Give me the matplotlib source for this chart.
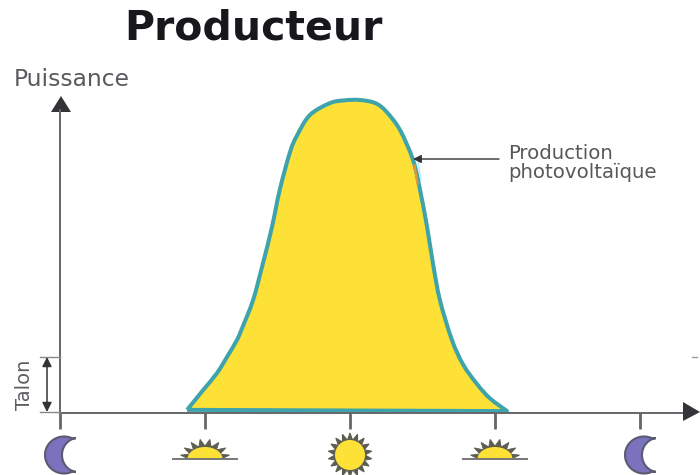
import numpy as np
import matplotlib
matplotlib.use("Agg")
import matplotlib.pyplot as plt
from matplotlib.patches import Polygon, Circle, PathPatch
from matplotlib.path import Path

hours = [5.26, 5.92, 6.50, 6.91, 7.32, 7.53, 7.99, 8.40, 8.77, 9.10, 9.52, 9.81, 10.34,
         11.17, 11.79, 12.41, 13.05, 13.50, 14.07, 14.61, 14.90, 15.19, 15.43, 15.72, 16.22, 16.68,
         17.25, 17.79, 18.50]
power = [1.0, 7.3, 12.8, 17.9, 23.3, 27.0, 36.1, 47.9, 59.4, 71.5, 83.4, 88.7, 95.2,
         99.0, 99.9, 100.0, 99.0, 96.3, 90.4, 80.8, 71.2, 59.4, 47.9, 36.1, 23.3, 15.5,
         9.3, 4.7, 0.6]
tick_hours = [0, 6, 12, 18, 24]
tick_icons = ["moon", "rise", "sun", "rise", "moon"]
talon_level = 17.9
TITLE = "Producteur"
YLABEL = "Puissance"
TALON = "Talon"
LABEL = "Production\nphotovoltaïque"

W, H = 700, 475
fig = plt.figure(figsize=(W / 100, H / 100), dpi=100, facecolor="white")
L, R, T, B = 60, 640, 100, 413
ax = fig.add_axes([L / W, 1 - B / H, (R - L) / W, (B - T) / H])
ax.set_xlim(0, 24)
ax.set_ylim(0, 100)
ax.patch.set_alpha(0)
for s in ax.spines.values():
    s.set_visible(False)
ax.set_xticks([])
ax.set_yticks([])


def smooth_closed(xs, ys):
    """Bezier segments through the read-off points, closed by a straight base."""
    p = np.c_[xs, ys]
    verts, codes = [p[0]], [Path.MOVETO]
    for i in range(len(p) - 1):
        p0 = p[max(i - 1, 0)]
        p1, p2 = p[i], p[i + 1]
        p3 = p[min(i + 2, len(p) - 1)]
        verts += [p1 + (p2 - p0) / 6, p2 - (p3 - p1) / 6, p2]
        codes += [Path.CURVE4] * 3
    verts.append(p[0])
    codes.append(Path.LINETO)
    return Path(verts, codes)


curve = smooth_closed(hours, power)
ax.add_patch(PathPatch(curve, facecolor="#fde136", edgecolor="#3fa3ac", lw=2.9, zorder=2,
                       joinstyle="round", clip_on=False))

# overlay in pixel space for the schematic decoration
ov = fig.add_axes([0, 0, 1, 1], zorder=5)
ov.set_xlim(0, W)
ov.set_ylim(H, 0)
ov.axis("off")
ov.patch.set_alpha(0)
G = "#66666a"
D = "#333338"
YEL = "#fde136"
RAY = "#5d5d50"

ov.plot([60, 688], [413, 413], color=G, lw=1.4, zorder=1)
ov.add_patch(Polygon([[683, 402], [700, 412], [683, 421]], fc=D, ec="none"))
ov.plot([60, 60], [413, 110], color=G, lw=1.4)
ov.add_patch(Polygon([[51, 112], [61, 96], [71, 112]], fc=D, ec="none"))

tick_px = [ax.transData.transform((h, 0))[0] for h in tick_hours]
for x in tick_px:
    ov.plot([x, x], [413, 429], color=G, lw=2.0, solid_capstyle="butt")

# talon
yt = 413 - talon_level * 3.13
ov.plot([40, 60], [yt, yt], color="#88888c", lw=1)
ov.plot([40, 60], [412, 412], color="#88888c", lw=1)
ov.annotate("", xy=(47, yt), xytext=(47, 412),
            arrowprops=dict(arrowstyle="<|-|>", color=D, lw=1.1, mutation_scale=14, shrinkA=0, shrinkB=0))
ov.text(25, 385, TALON, rotation=90, ha="center", va="center", fontsize=14,
        color="#5e5e62", family="DejaVu Sans")
ov.text(14, 80, YLABEL, ha="left", va="center", fontsize=16.8, color="#5a5a5e", family="DejaVu Sans")
ov.text(253, 29, TITLE, ha="center", va="center", fontsize=29.5, fontweight="bold",
        color="#17171c", family="DejaVu Sans")
ov.text(508, 163, LABEL, ha="left", va="center", fontsize=14.2, color="#58585c",
        family="DejaVu Sans", linespacing=0.95)
ov.annotate("", xy=(413, 159), xytext=(499, 159),
            arrowprops=dict(arrowstyle="-|>", color=D, lw=1.0, mutation_scale=12, shrinkA=0, shrinkB=0))

# small rendering artefacts on the curve near the arrow
ov.plot([414.5, 417.5], [165, 184], color="#e8953a", lw=1.6, solid_capstyle="round")
ov.plot([418, 421], [162, 180], color="#a9ecf5", lw=1.0)


def moon(cx):
    a = np.radians(np.linspace(65, 295, 60))
    ox, oy = cx + 19 * np.cos(a), 455 - 18.5 * np.sin(a)
    b = np.radians(np.linspace(262, 98, 40))
    ix, iy = cx + 14 + 16 * np.cos(b), 455 - 17 * np.sin(b)
    ov.add_patch(Polygon(np.r_[np.c_[ox, oy], np.c_[ix, iy]], fc="#7a72bd", ec="#5a5a72", lw=1.5))


def star(cx, cy, r0, r1, n, a0=0, a1=360, sx=1.0):
    ang = np.radians(np.linspace(a0, a1, 2 * n + 1))
    rad = np.where(np.arange(2 * n + 1) % 2 == 0, r0, r1)
    return np.c_[cx + sx * rad * np.cos(ang), cy - rad * np.sin(ang)]


for x, m in zip(tick_px, tick_icons):
    if m == "moon":
        moon(x + 4)
    elif m == "sun":
        ov.add_patch(Polygon(star(x, 455, 15, 22, 18), fc=RAY, ec=RAY, lw=0.8))
        ov.add_patch(Circle((x, 455), 15, fc=YEL, ec="none"))
    else:
        cy = 459
        ov.add_patch(Polygon(star(x, cy, 13, 20, 8, 0, 180, sx=1.25), fc=RAY, ec=RAY, lw=0.6))
        t = np.radians(np.linspace(0, 180, 40))
        ov.add_patch(Polygon(np.c_[x + 17.5 * np.cos(t), cy - 12 * np.sin(t)], fc=YEL, ec="none"))
        ov.plot([x - 32, x + 32], [cy, cy], color="#77777a", lw=1.4)

ov.plot([692, 697], [357, 357], color="#9a9a9a", lw=1)
fig.savefig("out.png", dpi=100, facecolor="white")
